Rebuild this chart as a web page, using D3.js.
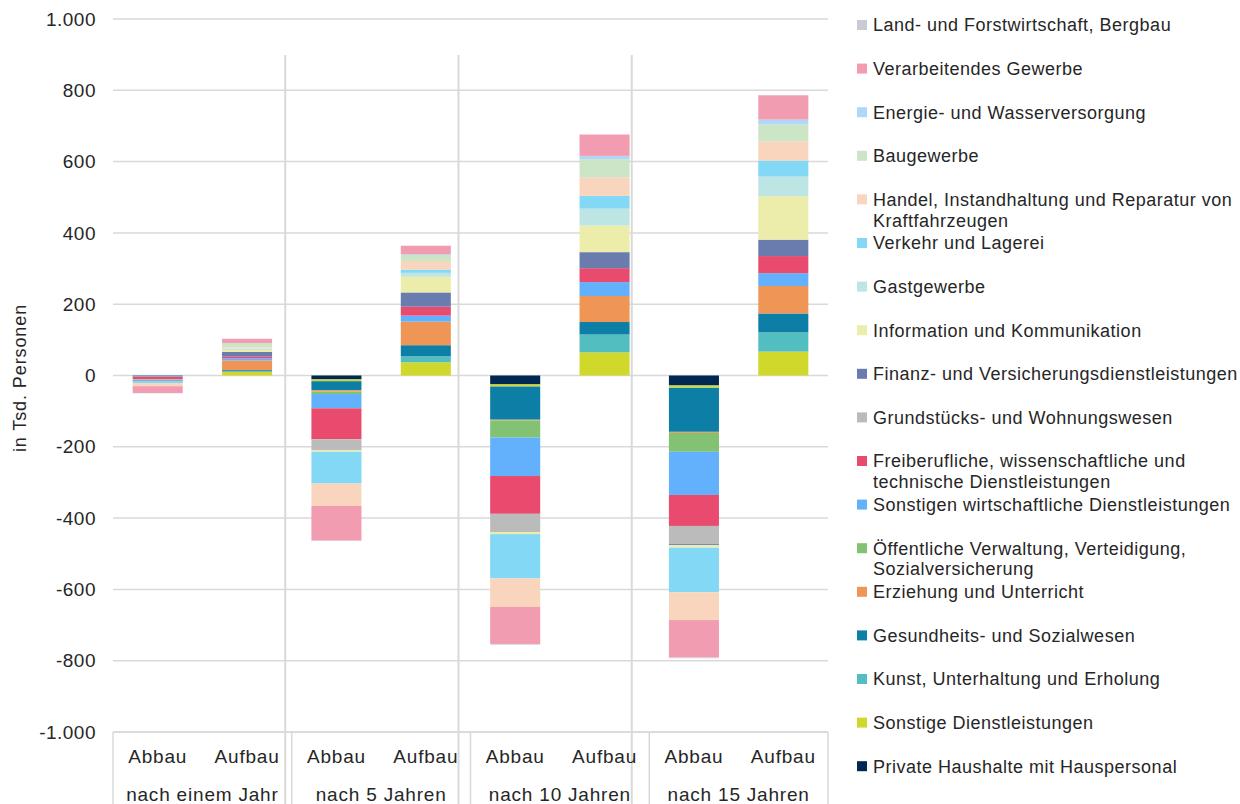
<!DOCTYPE html>
<html><head><meta charset="utf-8">
<script src="https://cdn.jsdelivr.net/npm/d3@7"></script>
<style>
html,body{margin:0;padding:0;background:#fff;}
text{font-family:Arial,"Liberation Sans",sans-serif;fill:#262626;}
</style></head>
<body>
<svg id="chart" width="1240" height="804"></svg>
<script>
// Categories (bar order)
const categories = ["A1","U1","A5","U5","A10","U10","A15","U15"];
const barLabels = ["Abbau","Aufbau","Abbau","Aufbau","Abbau","Aufbau","Abbau","Aufbau"];
const groupLabels = ["nach einem Jahr","nach 5 Jahren","nach 10 Jahren","nach 15 Jahren"];
const yTicks = [-1000,-800,-600,-400,-200,0,200,400,600,800,1000];

// Series in stacking order (first = nearest to zero)
const seriesNames = [
  "Private Haushalte mit Hauspersonal",
  "Sonstige Dienstleistungen",
  "Kunst, Unterhaltung und Erholung",
  "Gesundheits- und Sozialwesen",
  "Erziehung und Unterricht",
  "Öffentliche Verwaltung, Verteidigung, Sozialversicherung",
  "Sonstigen wirtschaftliche Dienstleistungen",
  "Freiberufliche, wissenschaftliche und technische Dienstleistungen",
  "Grundstücks- und Wohnungswesen",
  "Finanz- und Versicherungsdienstleistungen",
  "Information und Kommunikation",
  "Gastgewerbe",
  "Verkehr und Lagerei",
  "Handel, Instandhaltung und Reparatur von Kraftfahrzeugen",
  "Baugewerbe",
  "Energie- und Wasserversorgung",
  "Verarbeitendes Gewerbe",
  "Land- und Forstwirtschaft, Bergbau"
];
// Legend lines (wrapped as in the reference)
const legendLines = {
  "Öffentliche Verwaltung, Verteidigung, Sozialversicherung":["Öffentliche Verwaltung, Verteidigung,","Sozialversicherung"],
  "Freiberufliche, wissenschaftliche und technische Dienstleistungen":["Freiberufliche, wissenschaftliche und","technische Dienstleistungen"],
  "Handel, Instandhaltung und Reparatur von Kraftfahrzeugen":["Handel, Instandhaltung und Reparatur von","Kraftfahrzeugen"]
};
const seriesColors = [
  "#012853","#D1D82C","#53BEC0","#0D7EA6","#EF9657","#83C173","#63B1FD","#E84B6D",
  "#BBBBBB","#6A7BAE","#ECEDAB","#BCE5E4","#82D8F5","#F8D5BC","#CDE5C7","#B0D7F7",
  "#F19CB0","#C8CBD4"
];

// Values in Tsd. Personen per category [A1,U1,A5,U5,A10,U10,A15,U15]
const privateHaushalte   = [0, 0, -11, 0, -25, 0, -28, 0];
const sonstigeDL         = [0, 10, -5, 37, -6, 65, -6, 67];
const kunst              = [0, 2, 0, 17, 0, 50, -1, 54];
const gesundheit         = [-2, 3, -25, 31, -93, 35, -123, 53];
const erziehung          = [0, 27, -4, 66, -2, 73, -3, 77];
const oeffentliche       = [0, 0, -7, 0, -48, 0, -53, 0];
const sonstigeWirtschaft = [-1, 6, -40, 17, -108, 39, -121, 36];
const freiberufliche     = [-7, 5, -87, 25, -106, 39, -87, 48];
const grundstuecke       = [-3, 0, -31, 0, -51, 0, -51, 0];
const finanz             = [-2, 13, 0, 40, 0, 45, -3, 46];
const information        = [0, 6, -4, 44, -6, 75, -7, 122];
const gastgewerbe        = [0, 4, 0, 11, 0, 47, 0, 55];
const verkehr            = [-6, 0, -89, 9, -124, 36, -125, 45];
const handel             = [-9, 3, -63, 24, -80, 52, -78, 54];
const baugewerbe         = [0, 12, 0, 17, 0, 51, 0, 47];
const energie            = [0, 0, 0, 2, 0, 9, 0, 14];
const verarbeitendes     = [-19, 12, -97, 24, -104, 60, -105, 68];
const landForst          = [-1, 0, -1, 0, -2, 0, -2, 1];

const seriesValues = [privateHaushalte, sonstigeDL, kunst, gesundheit, erziehung, oeffentliche,
  sonstigeWirtschaft, freiberufliche, grundstuecke, finanz, information, gastgewerbe, verkehr,
  handel, baugewerbe, energie, verarbeitendes, landForst];

const svg = d3.select("#chart");
const plot = {left:113, right:828, top:19, bottom:732};

const x = d3.scaleBand().domain(categories).range([plot.left, plot.right])
  .paddingInner(0.44).paddingOuter(0.22);
const y = d3.scaleLinear().domain([-1000,1000]).range([plot.bottom, plot.top]);
const groupX = d3.scaleLinear().domain([0,4]).range([plot.left, plot.right]);
const dividerX = d3.scaleLinear().domain([0,4]).range([112, 805]);

const grid = "#D9D9D9";
// gridlines
svg.append("g").selectAll("line").data(yTicks).join("line")
  .attr("x1", plot.left).attr("x2", plot.right)
  .attr("y1", d=>y(d)).attr("y2", d=>y(d))
  .attr("stroke", grid).attr("stroke-width", 1.5);

// vertical dividers in plot
svg.append("g").selectAll("line").data([1,2,3]).join("line")
  .attr("x1", d=>dividerX(d)).attr("x2", d=>dividerX(d))
  .attr("y1", 55).attr("y2", 804)
  .attr("stroke", grid).attr("stroke-width", 2);

// y tick labels
const fmt = d => d3.format(",")(Math.abs(d)).replace(/,/g,".");
svg.append("g").selectAll("text").data(yTicks).join("text")
  .attr("x", 96).attr("y", d=>y(d)).attr("dy","0.35em")
  .attr("text-anchor","end").attr("font-size", 19).attr("letter-spacing", 0.5)
  .text(d=>(d<0?"-":"")+fmt(d));

// y axis title
svg.append("text").attr("transform","translate(26,378) rotate(-90)")
  .attr("text-anchor","middle").attr("font-size",18).attr("letter-spacing",0.9)
  .text("in Tsd. Personen");

// stacked bars
const rows = categories.map((c,i)=>{
  const r = {cat:c};
  seriesNames.forEach((s,j)=>{ r[s]=seriesValues[j][i]; });
  return r;
});
const stack = d3.stack().keys(seriesNames).offset(d3.stackOffsetDiverging)(rows);
svg.append("g").selectAll("g").data(stack).join("g")
  .attr("fill",(d,i)=>seriesColors[i])
  .selectAll("rect").data(d=>d).join("rect")
  .attr("x", d=>x(d.data.cat)).attr("width", x.bandwidth())
  .attr("y", d=>y(Math.max(d[0],d[1])))
  .attr("height", d=>Math.abs(y(d[0])-y(d[1])));

// category label box
const box = svg.append("g");
box.append("line").attr("x1",plot.left).attr("x2",plot.right)
  .attr("y1",plot.bottom).attr("y2",plot.bottom).attr("stroke",grid).attr("stroke-width",1.5);
box.selectAll("line.v").data([0,1,2,3,4]).join("line").attr("class","v")
  .attr("x1",d=>groupX(d)).attr("x2",d=>groupX(d))
  .attr("y1",plot.bottom).attr("y2",804).attr("stroke",grid).attr("stroke-width",1.5);
box.selectAll("text.b").data(categories).join("text").attr("class","b")
  .attr("x",d=>x(d)+x.bandwidth()/2).attr("y",763)
  .attr("text-anchor","middle").attr("font-size",19).attr("letter-spacing",0.8)
  .text((d,i)=>barLabels[i]);
box.selectAll("text.g").data(groupLabels).join("text").attr("class","g")
  .attr("x",(d,i)=>(groupX(i)+groupX(i+1))/2).attr("y",801)
  .attr("text-anchor","middle").attr("font-size",19).attr("letter-spacing",0.8).text(d=>d);

// legend (reverse order: top series first)
const legendOrder = seriesNames.map((s,i)=>({name:s,color:seriesColors[i]})).reverse();
const lg = svg.append("g");
const item = lg.selectAll("g").data(legendOrder).join("g")
  .attr("transform",(d,i)=>`translate(857,${25 + i*43.6})`);
item.append("rect").attr("x",0).attr("y",-5).attr("width",10).attr("height",10)
  .attr("fill",d=>d.color);
item.append("text").attr("x",16).attr("y",0).attr("font-size",18).attr("letter-spacing",0.5)
  .each(function(d){
    const lines = legendLines[d.name] || [d.name];
    d3.select(this).selectAll("tspan").data(lines).join("tspan")
      .attr("x",16).attr("dy",(l,k)=>k===0?"0.35em":"21").text(l=>l);
  });
</script>
</body></html>
